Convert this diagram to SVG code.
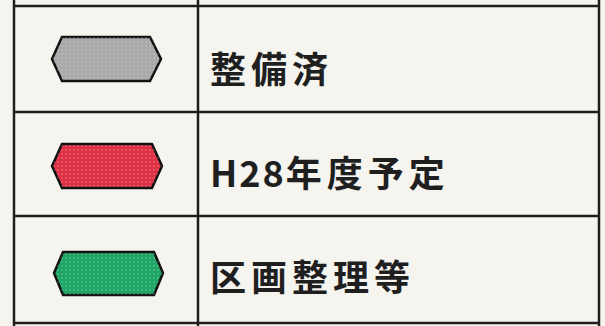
<svg xmlns="http://www.w3.org/2000/svg" width="605" height="326" viewBox="0 0 605 326">
<style>
.grid{stroke:#1e1e1e;stroke-width:2.5;fill:none}
.hex{stroke:#111;stroke-width:2.5}
.lbl{font-family:"Noto Sans CJK JP","Noto Sans CJK SC",sans-serif;font-weight:700;font-size:36px;fill:#1f1f1f;letter-spacing:5px}
</style>
<defs>
<pattern id="dots" width="4" height="4" patternUnits="userSpaceOnUse">
<circle cx="2" cy="2" r="0.8" fill="#ffffff" fill-opacity="0.35"/>
</pattern>
</defs>
<rect width="605" height="326" fill="#f5f4ef"/>
<g id="table">
<path class="grid" d="M14,6 H599 M14,112 H599 M14,216 H599 M14,323 H599 M14,0 V326 M198,0 V326 M599,0 V326"/>
</g>
<g id="row1">
<polygon class="hex" points="52,59 62,37 150,37 161,59 150,81 62,81" fill="#a9a9a9"/>
<polygon points="52,59 62,37 150,37 161,59 150,81 62,81" fill="url(#dots)"/>
<text class="lbl" x="210" y="83">整備済</text>
</g>
<g id="row2">
<polygon class="hex" points="52,166 62,144 152,144 162,166 152,188 62,188" fill="#df3145"/>
<polygon points="52,166 62,144 152,144 162,166 152,188 62,188" fill="url(#dots)"/>
<text class="lbl" x="210" y="187"><tspan style="letter-spacing:2px">H28</tspan>年度予定</text>
</g>
<g id="row3">
<polygon class="hex" points="54,273 63,252 154,252 163,273 154,295 63,295" fill="#1fa565"/>
<polygon points="54,273 63,252 154,252 163,273 154,295 63,295" fill="url(#dots)"/>
<text class="lbl" x="210" y="291">区画整理等</text>
</g>
</svg>
